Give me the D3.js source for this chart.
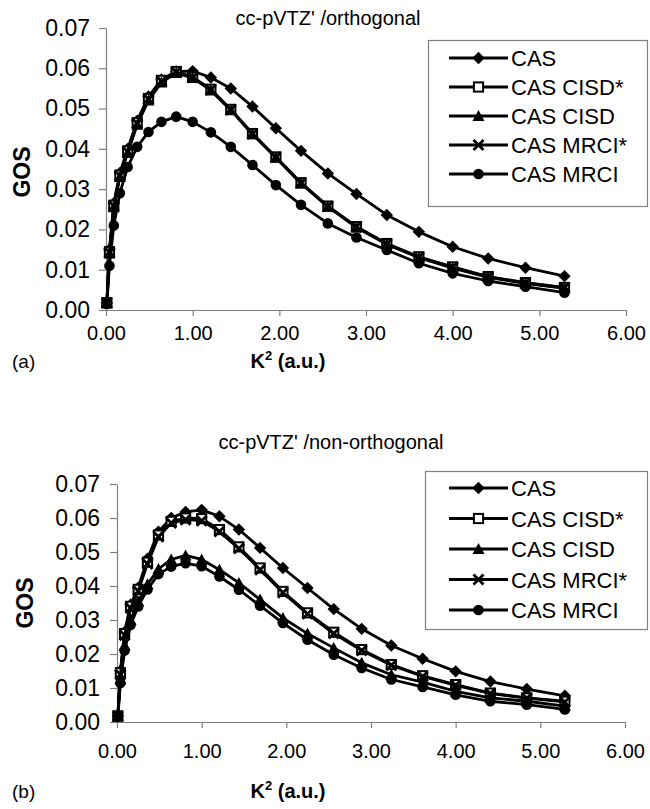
<!DOCTYPE html>
<html>
<head>
<meta charset="utf-8">
<title>GOS vs K2</title>
<script src="https://d3js.org/d3.v7.min.js"></script>
<style>
    body { margin: 0; background: #fff; }
    text { font-family: "Liberation Sans", Arial, sans-serif; fill: #000; }
</style>
</head>
<body>
<div id="drawArea"></div>

<script>
    // momentum transfer K^2 (a.u.) -- same grid for every curve
    var k2 = [0.01, 0.04, 0.09, 0.16, 0.25, 0.36, 0.49, 0.64, 0.81, 1.00, 1.21, 1.44,
              1.69, 1.96, 2.25, 2.56, 2.89, 3.24, 3.61, 4.00, 4.41, 4.84, 5.29];

    var seriesNames = ["CAS", "CAS CISD*", "CAS CISD", "CAS MRCI*", "CAS MRCI"];
    var markerTypes = ["diamond", "square", "triangle", "cross", "circle"];

    var xTicks = [0, 1, 2, 3, 4, 5, 6];
    var yTicks = [0, 0.01, 0.02, 0.03, 0.04, 0.05, 0.06, 0.07];

    // (a) cc-pVTZ' /orthogonal
    var orthCAS   = [0.0018, 0.0150, 0.0265, 0.0340, 0.0400, 0.0470, 0.0530, 0.0572, 0.0592, 0.0593, 0.0577, 0.0550,
                     0.0505, 0.0451, 0.0395, 0.0339, 0.0288, 0.0236, 0.0194, 0.0157, 0.0128, 0.0105, 0.0084];
    var orthCISDs = [0.0018, 0.0145, 0.0260, 0.0335, 0.0395, 0.0465, 0.0525, 0.0570, 0.0592, 0.0578, 0.0548, 0.0498,
                     0.0438, 0.0380, 0.0316, 0.0258, 0.0207, 0.0165, 0.0132, 0.0107, 0.0083, 0.0068, 0.0056];
    var orthCISD  = [0.0017, 0.0140, 0.0255, 0.0330, 0.0390, 0.0460, 0.0520, 0.0565, 0.0588, 0.0576, 0.0545, 0.0496,
                     0.0436, 0.0378, 0.0314, 0.0256, 0.0205, 0.0163, 0.0130, 0.0104, 0.0081, 0.0066, 0.0054];
    var orthMRCIs = [0.0018, 0.0143, 0.0258, 0.0333, 0.0393, 0.0463, 0.0523, 0.0568, 0.0590, 0.0577, 0.0547, 0.0497,
                     0.0437, 0.0379, 0.0315, 0.0257, 0.0206, 0.0164, 0.0131, 0.0106, 0.0082, 0.0067, 0.0055];
    var orthMRCI  = [0.0015, 0.0110, 0.0210, 0.0290, 0.0355, 0.0405, 0.0442, 0.0467, 0.0480, 0.0467, 0.0441, 0.0405,
                     0.0360, 0.0310, 0.0261, 0.0215, 0.0180, 0.0149, 0.0116, 0.0091, 0.0072, 0.0058, 0.0043];

    // (b) cc-pVTZ' /non-orthogonal
    var nonCAS   = [0.0018, 0.0150, 0.0265, 0.0345, 0.0395, 0.0480, 0.0560, 0.0600, 0.0618, 0.0624, 0.0605, 0.0566,
                    0.0512, 0.0453, 0.0394, 0.0332, 0.0274, 0.0225, 0.0186, 0.0149, 0.0119, 0.0097, 0.0077];
    var nonCISDs = [0.0018, 0.0145, 0.0260, 0.0340, 0.0390, 0.0470, 0.0550, 0.0590, 0.0600, 0.0598, 0.0566, 0.0515,
                    0.0453, 0.0384, 0.0321, 0.0264, 0.0213, 0.0169, 0.0136, 0.0110, 0.0085, 0.0071, 0.0061];
    var nonCISD  = [0.0016, 0.0125, 0.0225, 0.0300, 0.0355, 0.0405, 0.0450, 0.0478, 0.0490, 0.0478, 0.0448, 0.0409,
                    0.0360, 0.0306, 0.0260, 0.0218, 0.0174, 0.0139, 0.0117, 0.0090, 0.0071, 0.0061, 0.0047];
    var nonMRCIs = [0.0017, 0.0140, 0.0255, 0.0335, 0.0385, 0.0465, 0.0545, 0.0585, 0.0595, 0.0592, 0.0560, 0.0510,
                    0.0448, 0.0380, 0.0318, 0.0260, 0.0210, 0.0167, 0.0134, 0.0108, 0.0084, 0.0070, 0.0059];
    var nonMRCI  = [0.0015, 0.0115, 0.0210, 0.0285, 0.0340, 0.0390, 0.0435, 0.0457, 0.0467, 0.0458, 0.0428, 0.0389,
                    0.0342, 0.0291, 0.0242, 0.0198, 0.0159, 0.0125, 0.0103, 0.0080, 0.0061, 0.0051, 0.0037];

    var width = 650, height = 809;

    var svg = d3.select("#drawArea").append("svg")
        .attr("width", width)
        .attr("height", height);

    // one marker, centred on 0,0
    function DrawMarker(g, type) {
        if (type == "diamond") {
            g.append("path").attr("d", "M0,-6.2L6.2,0L0,6.2L-6.2,0Z").attr("fill", "#000");
        } else if (type == "square") {
            g.append("rect").attr("x", -4.6).attr("y", -4.6).attr("width", 9.2).attr("height", 9.2)
                .attr("fill", "#fff").attr("stroke", "#000").attr("stroke-width", 2);
        } else if (type == "triangle") {
            g.append("path").attr("d", "M0,-6L6,5L-6,5Z").attr("fill", "#000");
        } else if (type == "cross") {
            g.append("path").attr("d", "M-5,-5L5,5M-5,5L5,-5")
                .attr("stroke", "#000").attr("stroke-width", 2.8).attr("fill", "none");
        } else {
            g.append("circle").attr("r", 5.3).attr("fill", "#000");
        }
    }

    function DrawPanel(p) {
        var x = d3.scaleLinear().domain([0, 6]).range([p.left, p.right]);
        var y = d3.scaleLinear().domain([0, 0.07]).range([p.bottom, p.top]);

        var xAxis = svg.append("g")
            .attr("transform", "translate(0," + p.bottom + ")")
            .call(d3.axisBottom(x).tickValues(xTicks).tickFormat(d3.format(".2f"))
                .tickSizeInner(6).tickSizeOuter(0).tickPadding(p.xPad));
        xAxis.selectAll("text").attr("font-size", "20px").attr("fill", "#000");

        var yAxis = svg.append("g")
            .attr("transform", "translate(" + p.left + ",0)")
            .call(d3.axisLeft(y).tickValues(yTicks).tickFormat(d3.format(".2f"))
                .tickSizeInner(7).tickSizeOuter(0).tickPadding(p.yPad));
        yAxis.selectAll("text").attr("font-size", "23px").attr("fill", "#000");

        svg.selectAll(".domain, .tick line").attr("stroke", "#808080").attr("stroke-width", 1.2);
        svg.selectAll(".tick text").attr("font-family", "Liberation Sans, Arial, sans-serif");

        var line = d3.line()
            .x(function (d) { return x(d[0]); })
            .y(function (d) { return y(d[1]); });

        p.series.forEach(function (vals, i) {
            var pts = k2.map(function (k, j) { return [k, vals[j]]; });
            svg.append("path")
                .datum(pts)
                .attr("d", line)
                .attr("fill", "none")
                .attr("stroke", "#000")
                .attr("stroke-width", 2.8)
                .attr("stroke-linejoin", "round");
            pts.forEach(function (d) {
                var g = svg.append("g").attr("transform", "translate(" + x(d[0]) + "," + y(d[1]) + ")");
                DrawMarker(g, markerTypes[i]);
            });
        });

        // titles and labels
        svg.append("text").attr("x", p.titleX).attr("y", p.titleY)
            .attr("text-anchor", "middle").attr("font-size", "20px").text(p.title);

        svg.append("text")
            .attr("transform", "translate(" + p.gosX + "," + p.gosY + ") rotate(-90)")
            .attr("text-anchor", "middle").attr("font-size", "23px").attr("font-weight", "bold")
            .text("GOS");

        var kl = svg.append("text").attr("x", p.kX).attr("y", p.kY)
            .attr("text-anchor", "middle").attr("font-size", "20px").attr("font-weight", "bold");
        kl.append("tspan").text("K");
        kl.append("tspan").attr("font-size", "13px").attr("dy", -8).text("2");
        kl.append("tspan").attr("dy", 8).text(" (a.u.)");

        svg.append("text").attr("x", 12).attr("y", p.kY)
            .attr("font-size", "19px").text(p.tag);

        // legend
        var lg = p.legend;
        svg.append("rect").attr("x", lg.x0 + 0.5).attr("y", lg.y0 + 0.5)
            .attr("width", lg.x1 - lg.x0).attr("height", lg.y1 - lg.y0)
            .attr("fill", "#fff").attr("stroke", "#808080").attr("stroke-width", 1.2);
        seriesNames.forEach(function (name, i) {
            var ry = lg.rowTop + i * lg.rowStep;
            svg.append("line").attr("x1", lg.lineX0).attr("x2", lg.lineX1)
                .attr("y1", ry).attr("y2", ry)
                .attr("stroke", "#000").attr("stroke-width", 2.8);
            var g = svg.append("g").attr("transform", "translate(" + ((lg.lineX0 + lg.lineX1) / 2) + "," + ry + ")");
            DrawMarker(g, markerTypes[i]);
            svg.append("text").attr("x", lg.lineX1 + 3).attr("y", ry + 8)
                .attr("font-size", "22px").text(name);
        });
    }

    DrawPanel({
        left: 106, right: 626, top: 28, bottom: 310, xPad: 10, yPad: 9,
        series: [orthCAS, orthCISDs, orthCISD, orthMRCIs, orthMRCI],
        title: "cc-pVTZ' /orthogonal", titleX: 328, titleY: 25,
        gosX: 30, gosY: 172, kX: 288, kY: 368, tag: "(a)",
        legend: { x0: 428, y0: 40, x1: 647, y1: 206, lineX0: 449, lineX1: 508, rowTop: 58, rowStep: 29 }
    });

    DrawPanel({
        left: 117, right: 625, top: 484, bottom: 722, xPad: 16, yPad: 10,
        series: [nonCAS, nonCISDs, nonCISD, nonMRCIs, nonMRCI],
        title: "cc-pVTZ' /non-orthogonal", titleX: 331, titleY: 449,
        gosX: 33, gosY: 603, kX: 288, kY: 798, tag: "(b)",
        legend: { x0: 425, y0: 471, x1: 647, y1: 629, lineX0: 449, lineX1: 508, rowTop: 488, rowStep: 30.5 }
    });
</script>
</body>
</html>
